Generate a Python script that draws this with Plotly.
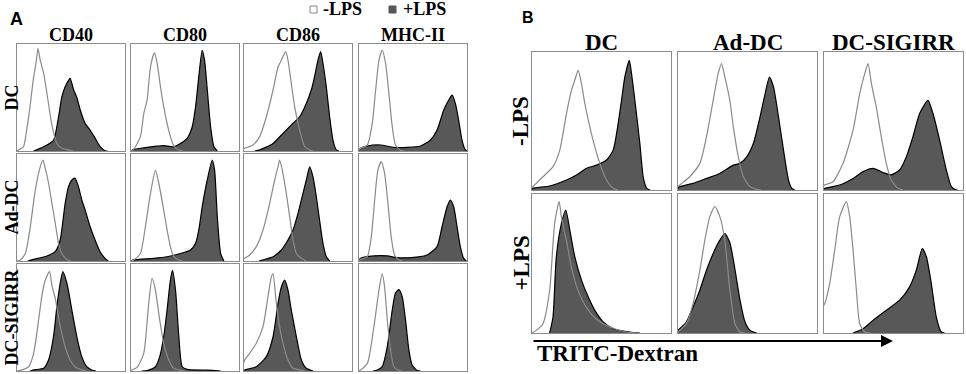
import plotly.graph_objects as go

# ---------------- data (x: % of box width, y: % of box height) ----------------
# Panel A, rows: DC, Ad-DC, DC-SIGIRR ; cols: CD40, CD80, CD86, MHC-II
A_col_labels = ["CD40", "CD80", "CD86", "MHC-II"]
A_row_labels = ["DC", "Ad-DC", "DC-SIGIRR"]
B_col_labels = ["DC", "Ad-DC", "DC-SIGIRR"]
B_row_labels = ["-LPS", "+LPS"]
legend_labels = ["-LPS", "+LPS"]
axis_label_B = "TRITC-Dextran"

A_DC_CD40_neg = [[0, 0], [1.5, 1], [6, 4], [9, 20], [12, 41], [15, 66], [18, 85], [19.4, 96], [21.5, 85], [24.6, 73], [27.7, 54], [31, 32], [34, 16.5], [37, 7], [41.5, 2.5], [47.7, 1], [52, 0]]
A_DC_CD40_pos = [[15.4, 0], [24.6, 4], [33.8, 10], [38.5, 32], [41.5, 50.5], [44.6, 60], [47.7, 66], [49.2, 68], [52.3, 57.6], [55.4, 50], [58.5, 38.6], [63, 25.9], [67.7, 19.6], [72.3, 12], [77, 4], [81.5, 0.3], [84, 0]]
A_DC_CD80_neg = [[0, 0], [2.5, 1.5], [8.7, 13.4], [11.8, 35], [14.9, 47.6], [18, 78.5], [21.7, 92], [24.1, 82.6], [27.2, 60.7], [30.3, 41.4], [33.4, 25.9], [36.5, 13.4], [39.6, 4.7], [44.3, 1], [48, 0]]
A_DC_CD80_pos = [[0, 0], [2.5, 1.5], [11.8, 3], [24.1, 4.5], [30.3, 5], [39.6, 4], [45.8, 7], [52, 11.8], [56.7, 22.7], [59.8, 41.4], [62.8, 69.8], [65.9, 94], [68.1, 85], [70.6, 57.6], [73.7, 22.7], [76.8, 4], [79.9, 0]]
A_DC_CD86_neg = [[0, 2], [0.6, 2.5], [8.3, 5.6], [14.5, 13.4], [20.7, 32], [26.9, 57], [31.5, 78.5], [34.6, 85], [38.6, 92.8], [40.7, 85], [43.8, 63], [46.9, 41.4], [50, 25.9], [53.1, 13.4], [56.2, 4], [60.8, 1], [64, 0]]
A_DC_CD86_pos = [[10, 0], [14.5, 1], [26.9, 7], [36.1, 16.5], [45.4, 26], [51.5, 32], [57.7, 44.5], [62.3, 57], [65.4, 69.8], [68.5, 85], [71, 92.8], [73.1, 82], [76.2, 60], [79.3, 32], [82.4, 10], [85.5, 1], [88, 0]]
A_DC_MHC_neg = [[0, 1], [1.5, 2.5], [7.7, 5.6], [12.3, 25.9], [15.4, 57], [18.5, 85], [21.5, 94.4], [24.6, 81.9], [27.7, 53.9], [30.8, 22.7], [33.8, 5.6], [38.5, 0.5], [42, 0]]
A_DC_MHC_pos = [[0, 1], [1.5, 2.5], [7.7, 4.7], [20, 5.6], [32.3, 3.4], [44.6, 3.4], [56.9, 4.7], [66.2, 10.3], [72.3, 19.6], [78.5, 38.3], [83.1, 47.6], [86.2, 52.3], [89.2, 44.5], [92.3, 28.7], [95.4, 10], [98.5, 1], [100, 0]]

A_AdDC_CD40_neg = [[0, 0], [3, 1], [7.7, 7], [12.3, 32], [16.9, 66], [21.5, 88], [24, 94.4], [26.2, 86.6], [29.2, 72.9], [32.3, 54], [35.4, 35.5], [38.5, 16.5], [41.5, 7], [46.2, 1.5], [50, 0]]
A_AdDC_CD40_pos = [[10, 0], [15.4, 1.5], [27.7, 4.7], [35.4, 8.7], [40, 19.6], [44.6, 53.9], [47.7, 69.5], [50.8, 75.7], [53.8, 77.3], [56.9, 69.5], [60, 57], [63.1, 47.6], [67.7, 32], [72.3, 19.6], [76.9, 8.7], [81.5, 2.5], [84.6, 0]]
A_AdDC_CD80_neg = [[0, 0], [2.5, 1], [8.7, 7], [13.3, 32], [18, 63], [22.6, 85], [25.7, 72.9], [30.3, 47.6], [33.4, 29], [36.5, 13.4], [39.6, 4], [44.3, 1], [48, 0]]
A_AdDC_CD80_pos = [[0, 0], [2.5, 1], [21, 2.5], [33.4, 4], [45.8, 7], [55.1, 10.3], [59.8, 16.5], [62.8, 29], [66, 51], [70.6, 75.7], [75.2, 94.4], [77.4, 85], [79.9, 41.4], [83, 7], [86, 0]]
A_AdDC_CD86_neg = [[0, 2], [0.6, 2.5], [5.2, 5.6], [11.4, 13.4], [17.6, 29], [23.8, 53.9], [28.4, 75.7], [31.5, 88], [33, 94.4], [35.5, 85], [39.2, 63], [42.3, 41.4], [45.4, 19.6], [48.5, 7], [53.1, 2.5], [57.7, 0]]
A_AdDC_CD86_pos = [[14, 0], [17.6, 1], [26.9, 4], [34.6, 10.3], [40.7, 19.6], [45.4, 29], [50, 44.5], [54.6, 63.2], [57.7, 75.7], [60.8, 88], [63.9, 78.5], [67, 59.8], [70, 38], [73.1, 16.5], [76.2, 4], [79.3, 0]]
A_AdDC_MHC_neg = [[0, 0.5], [1.5, 1.5], [7.7, 4], [11.4, 22.7], [14.5, 57], [17.5, 85], [20.6, 92.8], [23.7, 81.9], [26.8, 53.9], [29.8, 22.7], [32.9, 5.6], [36.9, 1], [40, 0]]
A_AdDC_MHC_pos = [[0, 1], [1.5, 2.5], [13.8, 4.7], [26.2, 4.7], [35.4, 3.1], [50.8, 3.4], [63.1, 5.6], [72.3, 13.4], [76.9, 32], [81.5, 50.5], [84.6, 57], [87.7, 50.5], [90.8, 32], [93.8, 13.4], [96.9, 2.5], [99.4, 0]]

A_SIG_CD40_neg = [[0, 0], [4.6, 1], [10.8, 4], [15.4, 16.5], [20, 47.6], [23, 70], [26.2, 85], [30.2, 93], [32.3, 80], [35.4, 68], [38.5, 50], [41.5, 35], [44.6, 22.7], [49.2, 10.3], [53.8, 4], [60, 1], [64, 0]]
A_SIG_CD40_pos = [[12, 0], [15.4, 1], [24.6, 2.5], [29.2, 10.3], [33.8, 32], [36.9, 60], [40, 82], [42.5, 92.8], [46.2, 82], [50.8, 57], [55.4, 32], [60, 13.4], [64.6, 4], [69.2, 1], [73, 0]]
A_SIG_CD80_neg = [[0, 0.5], [1, 1], [5.6, 3.4], [11.8, 16.5], [16.4, 63.2], [19.5, 86.6], [22.6, 75.7], [26.6, 47.6], [30.3, 25.9], [35, 10.3], [39.6, 2.5], [45.8, 0.5], [50, 0]]
A_SIG_CD80_pos = [[10, 0], [14.9, 0.5], [22.6, 4], [26.6, 13.4], [30.3, 32], [33.4, 57], [36.5, 85], [38.4, 94], [41.2, 75.7], [44.3, 32], [47.4, 4], [52, 1.5], [70.6, 0.8], [83, 0]]
A_SIG_CD86_neg = [[0, 8], [0.6, 10.3], [5.2, 16.5], [11.4, 25.9], [17.6, 41.4], [22.2, 69.5], [25.3, 88], [26.9, 91], [29.3, 69.5], [32.4, 44.5], [36.1, 25.9], [40.7, 10.3], [45.4, 2.5], [51.5, 1], [56, 0]]
A_SIG_CD86_pos = [[0, 0.5], [0.6, 1], [11.4, 4], [20.7, 13.4], [26.9, 32], [31.5, 63.2], [34.6, 78.5], [37.7, 85], [40.7, 75.7], [43.8, 57], [48.5, 32], [53.1, 10.3], [57.7, 2.5], [63.9, 0]]
A_SIG_MHC_neg = [[0, 0.5], [1.5, 1], [7.7, 7], [13.8, 41.4], [18.5, 75.7], [21.5, 91], [23.7, 78.5], [26.2, 47.6], [29.2, 19.6], [32.3, 4], [36.9, 0.5], [40, 0]]
A_SIG_MHC_pos = [[13, 0], [16.9, 1], [21.5, 4], [26.2, 22.7], [30.8, 57], [33.8, 72.9], [36.9, 76], [40, 69.5], [43.1, 47.6], [46.2, 19.6], [49.2, 5.6], [53.8, 0.5], [57, 0]]

# Panel B, rows: -LPS, +LPS ; cols: DC, Ad-DC, DC-SIGIRR
B_neg_DC_neg = [[0, 1.5], [0.7, 2.4], [7.9, 9.6], [15.1, 16.9], [20, 28.9], [24.8, 55.4], [28.4, 72.3], [30.8, 79.5], [33.2, 86.7], [35.6, 77.1], [38, 62.7], [41.6, 45.8], [45.2, 31.3], [48.8, 19.3], [53.6, 7.2], [58.4, 1.2], [62, 0]]
B_neg_DC_pos = [[0, 0.5], [0.7, 1.2], [12.7, 2.9], [24.8, 7.2], [32, 10.8], [39.2, 15.7], [46.4, 18], [53.6, 21.7], [58.4, 28.9], [62, 48.2], [64.4, 65], [66.8, 81.9], [70, 94], [71.6, 84.3], [74, 65], [77.6, 33.7], [80, 9.6], [82.5, 1.2], [85, 0]]
B_neg_AdDC_neg = [[0, 2.5], [1.2, 3.6], [8.4, 9.6], [15.7, 19.3], [20.5, 38.6], [25.3, 65], [28.9, 84.3], [31.3, 91.6], [33.7, 81.9], [37.3, 65], [39.8, 45.8], [43.4, 24], [47, 9.6], [51.8, 2.4], [56.6, 0.5], [60, 0]]
B_neg_AdDC_pos = [[0, 1.5], [1.2, 2.4], [10.8, 4.8], [20.5, 8.4], [30.1, 12], [39.8, 18], [44.6, 19.3], [49.4, 24], [54.2, 33.7], [59, 53], [62.7, 69.9], [65.8, 81.9], [68.7, 74.7], [72.3, 53], [75.9, 28.9], [79.5, 7.2], [81.9, 1.2], [84, 0]]
B_neg_SIG_neg = [[0, 3], [0.5, 3.6], [6.5, 6], [13.7, 19.3], [20.9, 43.4], [25.7, 69.9], [29.3, 84.3], [31.7, 91.6], [34.1, 77.1], [37.6, 60.2], [41.2, 38.6], [44.8, 19.3], [48.4, 7.2], [53.2, 1.2], [57, 0]]
B_neg_SIG_pos = [[0, 0.8], [0.5, 1.2], [11.3, 3.6], [20.9, 8.4], [28.1, 13.3], [35.3, 15.7], [42.4, 12.7], [48.4, 11], [54.4, 14.5], [59.2, 24], [64, 38.6], [68.8, 55.4], [74.8, 65], [78.4, 55.4], [83.2, 36.1], [88, 14.5], [91.6, 2.4], [94, 0.5], [96, 0]]
B_pos_DC_neg = [[0, 0], [3.1, 1.9], [7.9, 6.7], [12.7, 30.8], [16.3, 79], [19.5, 94.5], [21.2, 83.2], [24.8, 66.3], [28.4, 47.1], [33.2, 30.3], [39.2, 18.3], [46.4, 9.9], [56, 4.3], [68, 0.7], [76, 0]]
B_pos_DC_pos = [[12.7, 0], [15.1, 11.5], [17.5, 54.8], [21.2, 78.8], [24.3, 88.5], [27.2, 74], [30.8, 54.8], [35.6, 38], [40.4, 26], [45.2, 16.3], [51.2, 8], [58.4, 3.1], [70.4, 0.7], [77.6, 0]]
B_pos_AdDC_neg = [[0, 1], [1.2, 1.9], [6, 6.7], [10.8, 21], [15.7, 45], [19.3, 66.8], [22.9, 83.7], [26.5, 91], [30.1, 83.7], [33.7, 66.8], [37.3, 30.8], [41, 6.7], [44.6, 0.7], [48, 0]]
B_pos_AdDC_pos = [[0, 2], [1.2, 3.1], [6, 7.9], [10.8, 18.7], [15.7, 30.8], [20.5, 45.2], [25.3, 57.2], [30.1, 66.8], [33.7, 71.6], [37.3, 64.9], [41, 45.7], [44.6, 23.6], [48.2, 7.9], [51.8, 1.9], [56.6, 0]]
B_pos_SIG_neg = [[0, 20], [0.5, 21], [4.1, 35.6], [7.7, 59.6], [11.3, 83.7], [16.1, 94.5], [18.5, 83.7], [20.9, 59.6], [23.3, 30.8], [25.7, 6.7], [29.3, 0.7], [33, 0]]
B_pos_SIG_pos = [[20.9, 0], [28.1, 3.1], [35.3, 9.1], [44.8, 16.3], [54.4, 23.6], [61.6, 33.2], [66.4, 45.2], [70.7, 60.8], [73.6, 55], [77.2, 35.6], [80.8, 11.5], [84.4, 0.7], [86.8, 0]]

A_data = [
    [(A_DC_CD40_neg, A_DC_CD40_pos), (A_DC_CD80_neg, A_DC_CD80_pos), (A_DC_CD86_neg, A_DC_CD86_pos), (A_DC_MHC_neg, A_DC_MHC_pos)],
    [(A_AdDC_CD40_neg, A_AdDC_CD40_pos), (A_AdDC_CD80_neg, A_AdDC_CD80_pos), (A_AdDC_CD86_neg, A_AdDC_CD86_pos), (A_AdDC_MHC_neg, A_AdDC_MHC_pos)],
    [(A_SIG_CD40_neg, A_SIG_CD40_pos), (A_SIG_CD80_neg, A_SIG_CD80_pos), (A_SIG_CD86_neg, A_SIG_CD86_pos), (A_SIG_MHC_neg, A_SIG_MHC_pos)],
]
B_data = [
    [(B_neg_DC_neg, B_neg_DC_pos), (B_neg_AdDC_neg, B_neg_AdDC_pos), (B_neg_SIG_neg, B_neg_SIG_pos)],
    [(B_pos_DC_neg, B_pos_DC_pos), (B_pos_AdDC_neg, B_pos_AdDC_pos), (B_pos_SIG_neg, B_pos_SIG_pos)],
]

# ---------------- layout geometry (pixels) ----------------
W, H = 966, 374
A_cols = [(17, 125), (131, 239), (244, 352), (359, 467)]
A_rows = [(44, 151), (154, 261), (264, 371)]
B_cols = [(532, 671), (678, 817), (824, 963)]
B_rows = [(52, 190), (194, 333)]

FILL = "#585858"
OPEN_LINE = "#8a8a8a"
BOX = "#8c8c8c"
SERIF = "Liberation Serif, Times New Roman, serif"
SANS = "Liberation Sans, Arial, sans-serif"


def fx(x):
    return x / W


def fy(y):
    return 1 - y / H


fig = go.Figure()
layout = {}
panels = []
for r, (t, b) in enumerate(A_rows):
    for c, (l, rr) in enumerate(A_cols):
        panels.append(((l, rr, t, b), A_data[r][c]))
for r, (t, b) in enumerate(B_rows):
    for c, (l, rr) in enumerate(B_cols):
        panels.append(((l, rr, t, b), B_data[r][c]))

for i, ((l, rr, t, b), (neg, pos)) in enumerate(panels, start=1):
    xa = "x" if i == 1 else f"x{i}"
    ya = "y" if i == 1 else f"y{i}"
    fig.add_trace(go.Scatter(
        x=[p[0] for p in pos], y=[p[1] for p in pos], mode="lines",
        line=dict(color="black", width=1.2, shape="spline", smoothing=0.6),
        fill="tozeroy", fillcolor=FILL, xaxis=xa, yaxis=ya,
        showlegend=False, hoverinfo="skip"))
    fig.add_trace(go.Scatter(
        x=[p[0] for p in neg], y=[p[1] for p in neg], mode="lines",
        line=dict(color=OPEN_LINE, width=1.2, shape="spline", smoothing=0.6),
        xaxis=xa, yaxis=ya, showlegend=False, hoverinfo="skip"))
    common = dict(showline=True, mirror=True, linecolor=BOX, linewidth=1,
                  showgrid=False, zeroline=False, showticklabels=False,
                  ticks="", fixedrange=True)
    layout["xaxis" if i == 1 else f"xaxis{i}"] = dict(
        domain=[fx(l), fx(rr)], range=[0, 100], anchor=ya, **common)
    layout["yaxis" if i == 1 else f"yaxis{i}"] = dict(
        domain=[fy(b), fy(t)], range=[0, 100], anchor=xa, **common)

ann = []


def text(s, x, y, size, font=SERIF, angle=0, color="black"):
    ann.append(dict(text=s, x=fx(x), y=fy(y), xref="paper", yref="paper",
                    showarrow=False, textangle=angle, xanchor="center", yanchor="middle",
                    font=dict(family=font, size=size, color=color)))


text("<b>A</b>", 16, 19, 18, font=SANS)
text("<b>B</b>", 528, 18, 16, font=SANS)
for c, (l, rr) in enumerate(A_cols):
    text(f"<b>{A_col_labels[c]}</b>", (l + rr) / 2, 35, 18)
for r, (t, b) in enumerate(A_rows):
    text(f"<b>{A_row_labels[r]}</b>", 11, (t + b) / 2, 18, angle=-90)
for c, (l, rr) in enumerate(B_cols):
    text(f"<b>{B_col_labels[c]}</b>", (l + rr) / 2, 42, 23)
for r, (t, b) in enumerate(B_rows):
    text(f"<b>{B_row_labels[r]}</b>", 521, (t + b) / 2, 23, angle=-90)

# legend
text(f"<b>{legend_labels[0]}</b>", 342, 9, 18)
text(f"<b>{legend_labels[1]}</b>", 424, 9, 18)
shapes = [
    dict(type="rect", xref="paper", yref="paper", x0=fx(310), x1=fx(317), y0=fy(13), y1=fy(6),
         line=dict(color="#888", width=1), fillcolor="white"),
    dict(type="rect", xref="paper", yref="paper", x0=fx(389), x1=fx(396), y0=fy(13), y1=fy(6),
         line=dict(color="#555", width=1), fillcolor=FILL),
]

# arrow + axis label for panel B
ann.append(dict(x=fx(893), y=fy(341), xref="paper", yref="paper", ax=-361, ay=0,
                axref="pixel", ayref="pixel", showarrow=True, arrowhead=2,
                arrowsize=1.2, arrowwidth=2, arrowcolor="black", text=""))
text(f"<b>{axis_label_B}</b>", 617, 353, 23)

fig.update_layout(width=W, height=H, margin=dict(l=0, r=0, t=0, b=0),
                  paper_bgcolor="white", plot_bgcolor="white",
                  annotations=ann, shapes=shapes, **layout)
fig.write_html("out.html", config={"displayModeBar": False, "staticPlot": True},
               post_script="document.body.style.margin='0';document.body.style.overflow='hidden';")
